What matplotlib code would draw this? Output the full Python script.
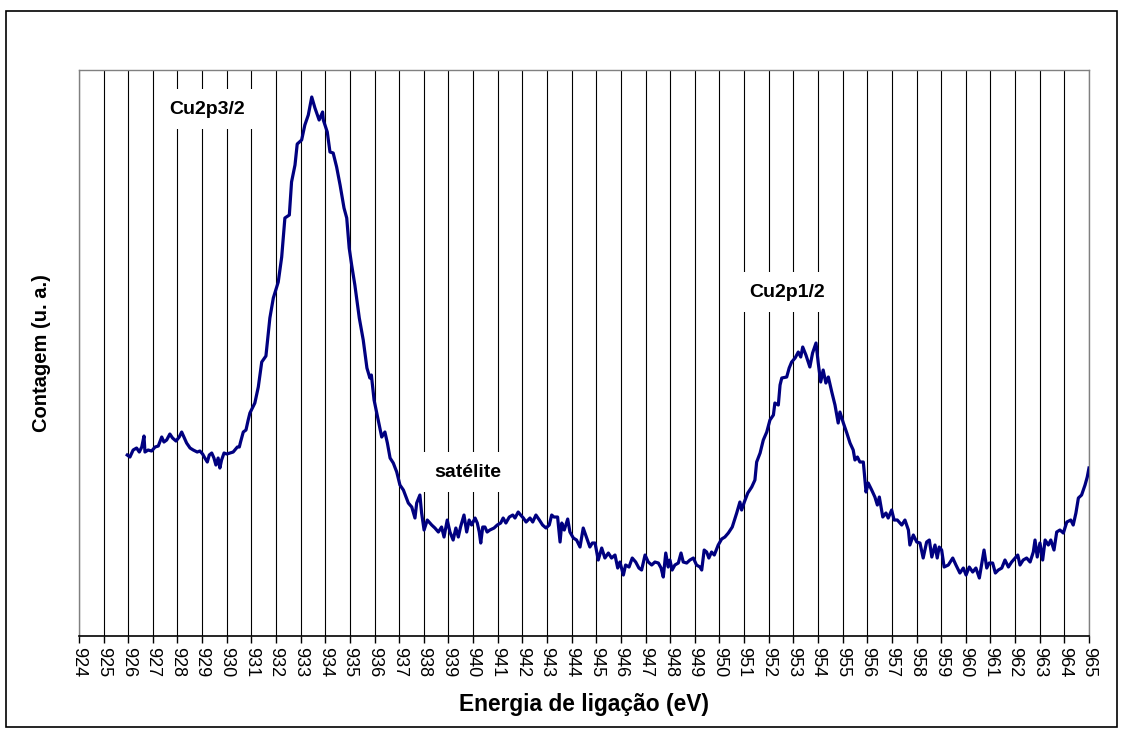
import matplotlib
matplotlib.use("Agg")
from matplotlib import pyplot as plt
from matplotlib.patches import Rectangle
import numpy as np

plt.rcParams['font.family'] = ['Liberation Sans', 'DejaVu Sans']

# Cu 2p spectrum, binding energy (eV) vs counts (arbitrary units)
energy = [
    925.96, 926.07, 926.20, 926.34, 926.45, 926.55, 926.64, 926.68, 926.81, 926.95,
    927.09, 927.22, 927.36, 927.45, 927.56, 927.69, 927.80, 927.94, 928.07, 928.17,
    928.26, 928.37, 928.51, 928.64, 928.80, 928.91, 929.02, 929.11, 929.21, 929.29,
    929.39, 929.48, 929.56, 929.65, 929.72, 929.79, 929.89, 930.00, 930.13, 930.26,
    930.33, 930.43, 930.51, 930.56, 930.67, 930.78, 930.87,
    930.94, 931.14, 931.28, 931.42, 931.59, 931.75, 931.89, 932.09, 932.23, 932.36,
    932.54, 932.63, 932.77, 932.86, 933.04, 933.17, 933.31, 933.45, 933.58, 933.75,
    933.89, 933.92, 934.08, 934.19, 934.32, 934.46, 934.60, 934.76, 934.87, 934.97,
    935.07, 935.20, 935.38, 935.54, 935.69, 935.81, 935.87,
    935.98, 936.09, 936.29, 936.42, 936.52, 936.63, 936.76, 936.90, 937.03, 937.17,
    937.37, 937.51, 937.64, 937.71, 937.84, 937.91, 938.01, 938.14, 938.32, 938.45,
    938.59, 938.72, 938.82, 938.95, 939.06, 939.19, 939.30, 939.40, 939.49, 939.63,
    939.74, 939.84, 939.94, 940.08, 940.17, 940.25, 940.31, 940.39, 940.48, 940.57,
    940.68, 940.85, 940.98, 941.12, 941.22, 941.33, 941.47, 941.61, 941.70, 941.83,
    941.93, 942.04, 942.15, 942.31, 942.42, 942.55, 942.69, 942.82, 942.96, 943.09,
    943.19, 943.28,
    943.43, 943.53, 943.60, 943.70, 943.84, 943.93, 944.07, 944.20, 944.34, 944.47,
    944.61, 944.74, 944.84, 944.95, 945.08, 945.22, 945.35, 945.49, 945.62, 945.76,
    945.87, 945.96, 946.10, 946.19, 946.33, 946.46, 946.60, 946.73, 946.84, 946.98,
    947.11, 947.25, 947.38, 947.52, 947.63, 947.72, 947.82, 947.92, 947.99, 948.08,
    948.19, 948.33, 948.44, 948.53, 948.67, 948.80, 948.94, 949.07, 949.21, 949.28,
    949.38, 949.48, 949.57, 949.68, 949.79, 949.95, 950.09, 950.22, 950.36, 950.52,
    950.70, 950.83, 950.90, 951.01, 951.15, 951.31, 951.44,
    951.51, 951.65, 951.78, 951.92, 952.05, 952.19, 952.25, 952.39, 952.46, 952.53,
    952.73, 952.83, 952.93, 953.07, 953.20, 953.30, 953.38, 953.51, 953.67, 953.78,
    953.92, 954.01, 954.11, 954.21, 954.32, 954.42, 954.56, 954.69, 954.82, 954.89,
    955.03, 955.17, 955.30, 955.43, 955.50, 955.60, 955.70, 955.84, 955.95, 956.04,
    956.18, 956.31, 956.41, 956.49, 956.63, 956.76, 956.85, 956.99, 957.09, 957.22,
    957.40, 957.53, 957.67, 957.73, 957.87, 958.01, 958.14, 958.27, 958.41, 958.52,
    958.62, 958.75, 958.84, 958.92, 959.02, 959.12, 959.29, 959.47, 959.60, 959.76,
    959.90, 960.01, 960.14, 960.28, 960.41, 960.55, 960.64, 960.74, 960.85, 960.95,
    961.09, 961.20, 961.32, 961.46, 961.59, 961.73, 961.86, 962.00, 962.11, 962.20,
    962.33, 962.47, 962.61, 962.74, 962.81, 962.90, 963.01, 963.12, 963.22, 963.35,
    963.45, 963.58, 963.69, 963.82, 963.96, 964.10, 964.26, 964.36, 964.47, 964.57,
    964.70, 964.84, 964.93, 965.00]

counts = [
    181, 179, 186, 188, 184, 189, 200, 184, 186, 185,
    189, 190, 199, 194, 196, 202, 198, 195, 199, 204,
    199, 193, 188, 186, 184, 185, 182, 178, 174, 181,
    183, 178, 171, 178, 168, 176, 183, 182, 183, 184,
    186, 189, 189, 194, 204, 206, 216,
    223, 233, 249, 274, 280, 318, 338, 354, 379, 418,
    421, 454, 471, 492, 496, 511, 521, 539, 528, 516,
    524, 516, 504, 484, 483, 469, 451, 428, 418, 388,
    371, 351, 318, 296, 268, 258, 261,
    236, 223, 199, 204, 193, 178, 173, 164, 151, 146,
    133, 129, 118, 133, 141, 123, 106, 116, 111, 108,
    104, 109, 99, 116, 104, 96, 108, 99, 109, 121,
    104, 116, 111, 118, 113, 104, 93, 109, 109, 104,
    106, 108, 111, 113, 118, 113, 119, 121, 118, 124,
    121, 118, 114, 118, 114, 121, 116, 111, 108, 111,
    121, 119,
    119, 94, 113, 106, 117, 104, 98, 96, 89, 108,
    98, 89, 93, 93, 76, 88, 78, 83, 78, 81,
    68, 74, 61, 71, 69, 78, 74, 68, 66, 81,
    74, 71, 74, 73, 68, 59, 83, 69, 76, 66,
    71, 73, 83, 74, 73, 76, 78, 71, 69, 66,
    86, 84, 78, 84, 81, 91, 97, 99, 103, 109,
    123, 134, 126, 134, 143, 149, 156,
    174, 183, 196, 204, 216, 221, 233, 231, 251, 258,
    259, 268, 274, 278, 284, 279, 289, 281, 269, 283,
    293, 273, 254, 266, 253, 259, 244, 231, 213, 224,
    213, 203, 193, 186, 176, 179, 174, 174, 144, 153,
    146, 139, 131, 139, 119, 123, 118, 126, 116, 116,
    111, 116, 106, 91, 101, 94, 93, 78, 94, 96,
    79, 91, 78, 89, 86, 69, 71, 78, 71, 63,
    68, 61, 69, 64, 68, 58, 71, 86, 68, 73,
    73, 63, 66, 68, 76, 69, 74, 78, 81, 71,
    76, 78, 74, 84, 96, 79, 93, 76, 96, 91,
    96, 86, 104, 106, 103, 114, 116, 111, 123, 138,
    141, 151, 159, 168]

ticks = list(range(924, 966))

# peak labels: (text, energy, counts)
labels = [("Cu2p3/2", 929.2, 527),
          ("satélite", 939.8, 164),
          ("Cu2p1/2", 952.75, 344)]

fig = plt.figure(figsize=(11.23, 7.33), dpi=100)
ax = fig.add_axes([0.0703, 0.1323, 0.8994, 0.7722])

ax.plot(energy, counts, color='#000080', lw=2.3, zorder=3, clip_on=True)

ax.set_xlim(924, 965)
ax.set_ylim(0, 566)
ax.set_xticks(ticks)
ax.set_xticklabels([str(t) for t in ticks], rotation=-90, fontsize=13)
ax.set_yticks([])
ax.tick_params(axis='x', direction='out', length=5, width=1, pad=3, color='black')
ax.grid(axis='x', color='black', lw=0.8, zorder=1)
ax.set_axisbelow(True)

for side in ['top', 'left', 'right']:
    ax.spines[side].set_color('#808080')
    ax.spines[side].set_linewidth(1)
ax.spines['bottom'].set_color('black')
ax.spines['bottom'].set_linewidth(1.2)

ax.set_xlabel("Energia de ligação (eV)", fontsize=16.4, fontweight='bold', labelpad=11)
ax.set_ylabel("Contagem (u. a.)", fontsize=14.5, fontweight='bold', labelpad=20)

for txt, x, y in labels:
    ax.text(x, y, txt, fontsize=14, fontweight='bold', ha='center', va='center', zorder=4,
            bbox=dict(boxstyle='square,pad=0.6', facecolor='white', edgecolor='none'))

# outer chart frame
fig.add_artist(Rectangle((0.0053, 0.0082), 0.9893, 0.9768, transform=fig.transFigure,
                         fill=False, edgecolor='black', lw=1.2))

fig.savefig("out.png", dpi=100)
